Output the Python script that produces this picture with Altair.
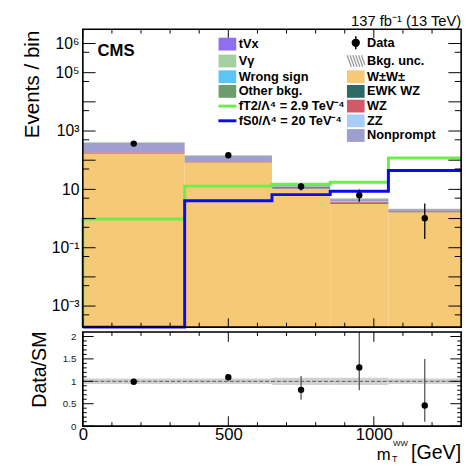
import json
import altair as alt
import pandas as pd

# ---------------- data ----------------
edges = [0, 350, 650, 850, 1050, 1300]
centers = [175, 500, 750, 950, 1175]

ww = [166, 83, 10.5, 3.2, 1.65]
ewk_wz = [4, 2, 0.5, 0.25, 0.1]
wz = [18, 7, 1.0, 0.35, 0.12]
zz = [3, 1, 0.2, 0.05, 0.02]
nonprompt = [188, 42, 2.6, 0.5, 0.08]
tvx = [3, 1.5, 0.2, 0.08, 0.03]
vgamma = [2, 1, 0.15, 0.05, 0.02]
wrong_sign = [4, 1, 0.15, 0.07, 0.02]
other_bkg = [2, 0.5, 0.1, 0.05, 0.02]
bkg_unc_rel = [0.06, 0.06, 0.08, 0.08, 0.06]

data_vals = [372, 148, 12.6, 6.3, 1.03]
data_lo = [353, 136, 9.2, 3.8, 0.2]
data_hi = [391, 160, 16.5, 10.0, 3.3]

ft2_vals = [0.97, 12.9, 15.1, 17.6, 119]
fs0_vals = [0, 4.1, 6.6, 8.6, 44.5]

ratio_vals = [0.99, 1.09, 0.81, 1.31, 0.46]
ratio_lo = [0.95, 1.02, 0.59, 0.80, 0.10]
ratio_hi = [1.03, 1.16, 1.12, 2.30, 1.50]

y_major_top = [1e-3, 1e-2, 1e-1, 1, 10, 1e2, 1e3, 1e4, 1e5, 1e6]
y_minor_top = [5e-4, 5e-3, 5e-2, 0.5, 5, 50, 500, 5e3, 5e4, 5e5]
y_label_top = [1e-3, 1e-1, 10, 1e3, 1e5, 1e6]
x_major = [0, 500, 1000]
x_minor = [100, 200, 300, 400, 600, 700, 800, 900, 1100, 1200]
y_major_bot = [0, 0.5, 1, 1.5, 2]
y_minor_bot = [0.1, 0.2, 0.3, 0.4, 0.6, 0.7, 0.8, 0.9, 1.1, 1.2, 1.3, 1.4, 1.6, 1.7, 1.8, 1.9, 2.0]

LBL_FT2 = "fT2/Λ⁴ = 2.9 TeV⁻⁴"
LBL_FS0 = "fS0/Λ⁴ = 20 TeV⁻⁴"
stack = [
    ("W±W±", ww, "#F6C977"),
    ("EWK WZ", ewk_wz, "#2D6A63"),
    ("WZ", wz, "#D05A6A"),
    ("ZZ", zz, "#A8CDF6"),
    ("Nonprompt", nonprompt, "#9E9ECF"),
    ("tVx", tvx, "#8F6FEF"),
    ("Vγ", vgamma, "#A4CFA0"),
    ("Wrong sign", wrong_sign, "#5BC5F5"),
    ("Other bkg.", other_bkg, "#6F9C6C"),
]
GREEN = "#6CEE4A"
BLUE = "#0A0AF5"
colors = {name: c for name, _, c in stack}

# legend order (column-major, 2 columns x 7 rows)
legend_domain = ["tVx", "Vγ", "Wrong sign", "Other bkg.", LBL_FT2, LBL_FS0, " ",
                 "Data", "Bkg. unc.", "W±W±", "EWK WZ", "WZ", "ZZ", "Nonprompt"]
legend_range = []
for k in legend_domain:
    if k in colors:
        legend_range.append(colors[k])
    elif k == "Data":
        legend_range.append("black")
    else:
        legend_range.append("transparent")

# ---------------- tables ----------------
FLOOR = 1e-9
rows = []
cum = [FLOOR] * 5
for name, vals, _ in stack:
    for i in range(5):
        lo_v = cum[i]
        hi_v = (cum[i] if cum[i] > FLOOR else 0) + vals[i]
        rows.append(dict(comp=name, lo=edges[i], hi=edges[i + 1], y0=lo_v, y1=hi_v))
        cum[i] = hi_v
bars_df = pd.DataFrame(rows)
totals = cum[:]

unc_df = pd.DataFrame(dict(
    lo=edges[:-1], hi=edges[1:],
    u0=[t * (1 - r) for t, r in zip(totals, bkg_unc_rel)],
    u1=[t * (1 + r) for t, r in zip(totals, bkg_unc_rel)],
    b0=[1 - r for r in bkg_unc_rel], b1=[1 + r for r in bkg_unc_rel],
))

def step_df(vals):
    xs = [edges[0]] + edges[:-1] + [edges[-1]]
    ys = [FLOOR] + [v if v > 0 else FLOOR for v in vals] + [vals[-1]]
    return pd.DataFrame(dict(x=xs, y=ys, i=list(range(len(xs)))))

pts_df = pd.DataFrame(dict(c=centers, v=data_vals, lo=data_lo, hi=data_hi,
                           r=ratio_vals, rlo=ratio_lo, rhi=ratio_hi))

# ---------------- styling ----------------
FONT = "Liberation Sans"
W, H1, H2 = 386, 304, 96

xscale = alt.Scale(domain=[0, 1300], nice=False, zero=False)
yscale_top = alt.Scale(type="log", domain=[1.9e-4, 3.1e6], nice=False, clamp=True)
yscale_bot = alt.Scale(domain=[0, 2.1], nice=False, zero=False)

sup = {"-3": "10⁻³", "-1": "10⁻¹", "1": "10\u2007", "3": "10³", "5": "10⁵", "6": "10⁶"}
expo = "round(log(datum.value)/LN10)"
lab_expr = "''"
for k, v in sup.items():
    lab_expr = f"{expo} == {k} ? '{v}' : (" + lab_expr + ")"

yaxis_top = alt.Axis(values=y_label_top, labelExpr=lab_expr, ticks=False, domain=False,
                     grid=False, labelFont=FONT, labelFontSize=16, labelColor="black",
                     labelPadding=4, labelOverlap=False,
                     title="Events / bin", titleFont=FONT, titleFontSize=21,
                     titleFontWeight="normal", titleColor="black", titleAngle=270,
                     titleAlign="right", titleBaseline="alphabetic", titleX=-45.5, titleY=1)
yaxis_bot = alt.Axis(values=y_major_bot, format="~g", ticks=False, domain=False, grid=False,
                     labelFont=FONT, labelFontSize=10, labelColor="#222", labelPadding=7,
                     labelOverlap=False,
                     title="Data/SM", titleFont=FONT, titleFontSize=20,
                     titleFontWeight="normal", titleColor="black", titleAngle=270,
                     titleAlign="right", titleBaseline="alphabetic", titleX=-38, titleY=-1)
xaxis_bot = alt.Axis(values=x_major, format="d", ticks=False, domain=False, grid=False,
                     labelFlush=False, labelFont=FONT, labelFontSize=17, labelColor="black",
                     labelPadding=1, labelOverlap=False, title=None)

def mapping_expr(mapping, default):
    s = json.dumps(default, ensure_ascii=False)
    for k, v in mapping.items():
        s = f"datum.value === {json.dumps(k, ensure_ascii=False)} ? {json.dumps(v, ensure_ascii=False)} : (" + s + ")"
    return s

SQUARE = "M-1.08,-0.78H1.08V0.78H-1.08Z"
LINE = "M-1.1,0H1.1"
DOT = "M0,-0.8V0.8M-0.42,0A0.42,0.42 0 1,0 0.42,0A0.42,0.42 0 1,0 -0.42,0Z"
HATCH = ("M-1.05,-0.7L-0.55,0.7M-0.7,-0.7L-0.2,0.7M-0.35,-0.7L0.15,0.7"
         "M0,-0.7L0.5,0.7M0.35,-0.7L0.85,0.7M0.7,-0.7L1.1,0.45")
shape_expr = mapping_expr({"Data": DOT, "Bkg. unc.": HATCH, LBL_FT2: LINE, LBL_FS0: LINE, " ": "M0,0"}, SQUARE)
stroke_expr = mapping_expr({"Data": "black", "Bkg. unc.": "#999999", LBL_FT2: GREEN, LBL_FS0: BLUE}, "transparent")
sw_expr = mapping_expr({"Data": 1.5, "Bkg. unc.": 1.3, LBL_FT2: 3, LBL_FS0: 3}, 0)

legend = alt.Legend(
    title=None, orient="none", legendX=141, legendY=7, columns=2, direction="vertical",
    symbolType={"expr": shape_expr}, symbolStrokeColor={"expr": stroke_expr},
    symbolStrokeWidth={"expr": sw_expr}, symbolSize=279, symbolOpacity=1,
    labelFont=FONT, labelFontSize=13, labelFontWeight="bold", labelColor="black",
    labelOffset=5, rowPadding=0, columnPadding=-1, padding=0, labelLimit=200,
)

# axis helpers: every layer of a panel carries the same axis definition
def XT(field):
    return alt.X(field, type="quantitative", scale=xscale, axis=None)

def YT(field):
    return alt.Y(field, type="quantitative", scale=yscale_top, axis=yaxis_top)

def XB(field):
    return alt.X(field, type="quantitative", scale=xscale, axis=xaxis_bot)

def YB(field):
    return alt.Y(field, type="quantitative", scale=yscale_bot, axis=yaxis_bot)

# ---------------- top panel ----------------
bars = alt.Chart(bars_df).mark_rect().encode(
    x=XT("lo"), x2="hi:Q", y=YT("y1"), y2="y0:Q",
    fill=alt.Fill("comp:N", scale=alt.Scale(domain=legend_domain, range=legend_range), legend=legend),
)
unc_top = alt.Chart(unc_df).mark_rect(fill="#8c8c8c", opacity=0.55).encode(
    x=XT("lo"), x2="hi:Q", y=YT("u0"), y2="u1:Q")

def step_layer(vals, color):
    return alt.Chart(step_df(vals)).mark_line(interpolate="step-after", color=color, strokeWidth=3).encode(
        x=XT("x"), y=YT("y"), order="i:Q")

err_top = alt.Chart(pts_df).mark_rule(color="black", strokeWidth=1.3).encode(
    x=XT("c"), y=YT("lo"), y2="hi:Q")
pts_top = alt.Chart(pts_df).mark_circle(color="black", size=42, opacity=1).encode(
    x=XT("c"), y=YT("v"))

def yticks(vals, Yf, length):
    df = pd.DataFrame(dict(v=vals))
    left = alt.Chart(df).mark_rule(color="black", strokeWidth=1).encode(
        y=Yf("v"), x=alt.value(0), x2=alt.value(length))
    right = alt.Chart(df).mark_rule(color="black", strokeWidth=1).encode(
        y=Yf("v"), x=alt.value(W - length), x2=alt.value(W))
    return [left, right]

def xticks(vals, Xf, length, height):
    df = pd.DataFrame(dict(v=vals))
    bot = alt.Chart(df).mark_rule(color="black", strokeWidth=1).encode(
        x=Xf("v"), y=alt.value(height - length), y2=alt.value(height))
    top = alt.Chart(df).mark_rule(color="black", strokeWidth=1).encode(
        x=Xf("v"), y=alt.value(0), y2=alt.value(length))
    return [bot, top]

one = pd.DataFrame(dict(a=[0]))

def frame(height):
    return alt.Chart(one).mark_rect(fillOpacity=0, stroke="black", strokeWidth=1.6).encode(
        x=alt.value(0), x2=alt.value(W), y=alt.value(0), y2=alt.value(height))

def label(text, x, y, size, weight="normal", align="left"):
    return alt.Chart(one).mark_text(text=text, font=FONT, fontSize=size, fontWeight=weight,
                                    align=align, baseline="alphabetic", color="black").encode(
        x=alt.value(x), y=alt.value(y))

top_layers = [bars, unc_top, step_layer(ft2_vals, GREEN), step_layer(fs0_vals, BLUE), err_top, pts_top]
top_layers += yticks(y_major_top, YT, 13) + yticks(y_minor_top, YT, 6.5)
top_layers += xticks(x_major, XT, 9, H1) + xticks(x_minor, XT, 4.5, H1)
top_layers += [frame(H1), label("CMS", 15, 27, 17, "bold"), label("137 fb⁻¹ (13 TeV)", W, -3.5, 15, align="right")]
top = alt.layer(*top_layers).properties(width=W, height=H1)

# ---------------- bottom panel ----------------
band = alt.Chart(unc_df).mark_rect(fill="#bdbdbd", opacity=0.7).encode(
    x=XB("lo"), x2="hi:Q", y=YB("b0"), y2="b1:Q")
unity = alt.Chart(pd.DataFrame(dict(x0=[edges[0]], x1=[edges[-1]], y=[1.0]))).mark_rule(
    color="#555555", strokeDash=[4, 2], strokeWidth=1).encode(
    x=XB("x0"), x2="x1:Q", y=YB("y"))
err_bot = alt.Chart(pts_df).mark_rule(color="#555555", strokeWidth=1.3, clip=True).encode(
    x=XB("c"), y=YB("rlo"), y2="rhi:Q")
pts_bot = alt.Chart(pts_df).mark_circle(color="black", size=42, opacity=1).encode(
    x=XB("c"), y=YB("r"))

bot_layers = [band, unity, err_bot, pts_bot]
bot_layers += yticks(y_major_bot, YB, 11) + yticks(y_minor_bot, YB, 4)
bot_layers += xticks(x_major, XB, 10, H2) + xticks(x_minor, XB, 4, H2)
bot_layers += [frame(H2),
               label("m", 300, 131, 17),
               label("WW", 316.5, 116, 8),
               label("T", 315.5, 132.5, 9),
               label("[GeV]", W, 129.5, 20, align="right")]
bottom = alt.layer(*bot_layers).properties(width=W, height=H2)

chart = alt.vconcat(top, bottom, spacing=5, bounds="flush").properties(
    padding={"left": 21.5, "top": 9, "right": 0, "bottom": 0}
).configure_view(stroke=None).configure(background="white")

chart.save("out.html", embed_options={"renderer": "svg", "actions": False})
